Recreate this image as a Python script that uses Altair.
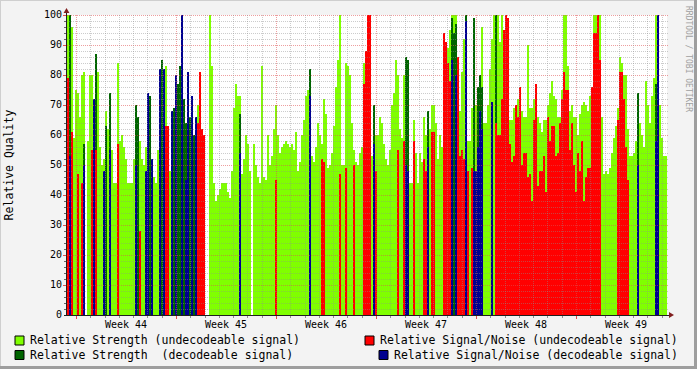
import altair as alt
import pandas as pd

# ---- data (one value per 2-px time slot, 50 slots per week) ----
strength_undecodeable = [
    100, 100, 96, 59, 75, 74, 66, 80, 81, 0,
    58, 80, 80, 66, 84, 81, 56, 50, 52, 68,
    62, 65, 55, 44, 44, 84, 58, 60, 56, 52,
    44, 44, 44, 52, 60, 65, 58, 52, 50, 56,
    60, 62, 52, 46, 44, 55, 60, 66, 70, 83,
    57, 48, 55, 0, 0, 0, 0, 0, 0, 0,
    0, 0, 0, 0, 0, 70, 72, 62, 60, 0,
    0, 100, 83, 44, 38, 40, 42, 44, 44, 44,
    41, 39, 48, 69, 77, 73, 73, 47, 52, 60,
    57, 48, 0, 57, 50, 46, 44, 83, 46, 45,
    60, 50, 53, 62, 70, 60, 54, 56, 57, 58,
    57, 56, 57, 55, 61, 48, 51, 60, 65, 73,
    75, 74, 53, 51, 56, 64, 60, 57, 72, 67,
    49, 50, 54, 63, 76, 85, 100, 50, 50, 84,
    83, 80, 64, 55, 51, 50, 54, 56, 84, 81,
    100, 100, 53, 60, 60, 60, 66, 64, 57, 52,
    50, 55, 70, 74, 85, 80, 62, 59, 80, 74,
    74, 44, 44, 65, 54, 44, 54, 51, 66, 60,
    64, 62, 70, 70, 64, 52, 60, 56, 86, 89,
    89, 95, 100, 100, 100, 81, 68, 81, 92, 74,
    58, 58, 69, 96, 70, 66, 80, 96, 64, 64,
    70, 82, 92, 100, 91, 100, 91, 100, 90, 90,
    80, 65, 65, 69, 69, 72, 72, 68, 66, 66,
    90, 69, 69, 72, 72, 66, 64, 61, 65, 65,
    70, 74, 78, 73, 72, 66, 66, 75, 100, 100,
    83, 68, 70, 66, 66, 60, 67, 70, 71, 70,
    68, 73, 72, 100, 100, 100, 100, 66, 47, 48,
    47, 49, 54, 59, 63, 69, 86, 84, 80, 80,
    62, 53, 53, 54, 58, 61, 64, 60, 56, 78,
    70, 64, 73, 79, 100, 83, 70, 59, 53, 53,
]

strength_decodeable = [
    (1, 100), (8, 57), (14, 87), (19, 63), (21, 74), (34, 70), (35, 66),
    (40, 74), (41, 73), (46, 80), (47, 85), (48, 78), (52, 65), (53, 69),
    (54, 74), (55, 77), (56, 83), (57, 83), (58, 72), (59, 64), (60, 70),
    (61, 66), (62, 62), (63, 60), (64, 58), (65, 55), (86, 67), (121, 82),
    (153, 70), (169, 86), (170, 85), (180, 68), (192, 99), (193, 94),
    (194, 97), (199, 100), (203, 99), (205, 76), (206, 80), (207, 76),
    (214, 100), (285, 74), (294, 77),
]

sn_undecodeable = [
    (0, 79), (2, 61), (5, 47), (7, 44), (12, 55), (14, 55), (25, 57),
    (36, 28), (49, 63), (50, 63), (65, 64), (66, 81), (67, 62), (68, 60),
    (104, 45), (127, 52), (128, 51), (136, 47), (139, 49), (143, 50),
    (148, 77), (149, 88), (150, 100), (151, 100), (154, 48), (165, 55),
    (168, 58), (173, 58), (178, 52), (179, 48), (182, 61), (183, 61),
    (188, 94), (189, 91), (190, 84), (191, 78), (195, 86), (196, 53),
    (197, 55), (198, 52), (200, 48), (202, 49), (214, 64), (215, 60),
    (216, 60), (217, 72), (218, 95), (219, 100), (220, 99), (221, 57),
    (222, 51), (223, 53), (224, 70), (225, 66), (226, 76), (227, 50),
    (228, 54), (229, 54), (230, 46), (231, 47), (232, 38), (233, 65),
    (234, 77), (235, 43), (236, 48), (237, 48), (238, 53), (239, 41),
    (240, 66), (241, 58), (242, 63), (243, 63), (244, 53), (245, 54),
    (246, 64), (247, 72), (248, 81), (249, 75), (250, 75), (251, 55),
    (252, 64), (253, 50), (254, 41), (255, 54), (256, 48), (257, 58),
    (258, 38), (259, 46), (260, 49), (261, 49), (262, 76), (263, 94),
    (264, 94), (265, 100), (266, 85), (275, 65), (276, 81), (277, 81),
    (278, 72), (279, 56), (280, 45),
]

sn_decodeable = [
    (1, 53), (8, 50), (13, 72), (18, 48), (21, 55), (34, 50), (39, 48),
    (40, 74), (42, 52), (46, 82), (48, 82), (52, 68), (54, 80), (57, 100),
    (59, 45), (60, 81), (62, 73), (64, 66), (86, 54), (121, 73), (153, 57),
    (169, 50), (170, 48), (180, 56), (192, 85), (194, 80), (199, 98),
    (203, 48), (204, 48), (205, 56), (206, 68), (207, 62), (212, 71),
    (285, 50), (294, 58), (295, 100),
]

week_labels = ["Week 44", "Week 45", "Week 46", "Week 47", "Week 48", "Week 49"]
y_tick_labels = [0, 10, 20, 30, 40, 50, 60, 70, 80, 90, 100]
legend_labels = [
    "Relative Strength (undecodeable signal)",
    "Relative Strength\u00a0 (decodeable signal)",
    "Relative Signal/Noise (undecodeable signal)",
    "Relative Signal/Noise (decodeable signal)",
]

# ---- layout constants ----
SLOTS = 300
WEEK = 50
FIRST_WEEK = 4.5
DAY = WEEK / 7.0
FONT = "DejaVu Sans Mono"

C_LG = "#80FF00"
C_DG = "#006400"
C_RED = "#FF0000"
C_BLUE = "#000090"
C_GRID = "#8F8F8F"
C_MGRID = "#DE4F4F"

xs = alt.Scale(domain=[0, SLOTS], nice=False, zero=False)
ys = alt.Scale(domain=[0, 100], nice=False)


def frame(pairs):
    return pd.DataFrame({
        "slot": [p[0] for p in pairs],
        "end": [p[0] + 1 for p in pairs],
        "val": [p[1] for p in pairs],
    })


g_pairs = [(i, v) for i, v in enumerate(strength_undecodeable) if v > 0]


def bars(pairs, color):
    return alt.Chart(frame(pairs)).mark_rect(color=color, strokeWidth=0).encode(
        x=alt.X("slot:Q", scale=xs, axis=None),
        x2="end:Q",
        y=alt.Y("val:Q", scale=ys, axis=None),
        y2=alt.datum(0),
    )


layers = [
    bars(g_pairs, C_LG),
    bars(strength_decodeable, C_DG),
    bars(sn_undecodeable, C_RED),
    bars(sn_decodeable, C_BLUE),
]

# ---- grid (drawn over the bars, dotted) ----
minor_y = [v - 1 / 6 for v in range(2, 100, 2) if v % 10]
major_y = [v - 1 / 6 for v in range(10, 101, 10)]


def px_slot(s):
    return (round(2 * s) + 0.5) / 2.0


day_pos = []
week_pos = []
j = 0
while FIRST_WEEK + j * DAY < SLOTS:
    p = px_slot(FIRST_WEEK + j * DAY)
    (week_pos if j % 7 == 0 else day_pos).append(p)
    j += 1

for vals, color, op in [(minor_y, C_GRID, 0.45), (major_y, C_MGRID, 0.55)]:
    df = pd.DataFrame({"gy": vals})
    layers.append(
        alt.Chart(df).mark_rule(
            color=color, opacity=op, strokeWidth=1, strokeDash=[1, 1]
        ).encode(y=alt.Y("gy:Q", scale=ys, axis=None), x=alt.value(0), x2=alt.value(601))
    )
    # small ticks left of the y axis
    layers.append(
        alt.Chart(df).mark_rule(color=color if color == C_MGRID else "#666666", strokeWidth=1).encode(
            y=alt.Y("gy:Q", scale=ys, axis=None),
            x=alt.value(-4 if color == C_MGRID else -3), x2=alt.value(-1))
    )
for vals, color, op in [(day_pos, C_GRID, 0.45), (week_pos, C_MGRID, 0.55)]:
    df = pd.DataFrame({"gx": vals})
    layers.append(
        alt.Chart(df).mark_rule(color=color, opacity=op, strokeWidth=1, strokeDash=[1, 1]).encode(
            x=alt.X("gx:Q", scale=xs, axis=None), y=alt.value(0), y2=alt.value(300))
    )
    layers.append(
        alt.Chart(df).mark_rule(color=color, strokeWidth=1).encode(
            x=alt.X("gx:Q", scale=xs, axis=None), y=alt.value(301),
            y2=alt.value(304 if color == C_MGRID else 303))
    )

one = pd.DataFrame({"k": [0]})

# y tick labels
layers.append(alt.Chart(pd.DataFrame({"v": y_tick_labels})).mark_text(
    font=FONT, fontSize=10, color="#000000", align="right", baseline="middle"
).encode(y=alt.Y("v:Q", scale=ys, axis=None), x=alt.value(-5), text="v:Q"))

# axis lines and arrows
layers.append(alt.Chart(one).mark_rule(color="#1F1F1F", strokeWidth=1).encode(
    x=alt.value(-0.5), y=alt.value(-3), y2=alt.value(301)))
layers.append(alt.Chart(one).mark_rule(color="#1F1F1F", strokeWidth=1).encode(
    y=alt.value(300.5), x=alt.value(-3), x2=alt.value(603)))
layers.append(alt.Chart(one).mark_point(shape="triangle-up", filled=True, size=34,
                                         color="#801F1F", opacity=1).encode(
    x=alt.value(-0.5), y=alt.value(-4.5)))
layers.append(alt.Chart(one).mark_point(shape="triangle-right", filled=True, size=34,
                                         color="#801F1F", opacity=1).encode(
    x=alt.value(604.5), y=alt.value(300)))

# week labels
wk = pd.DataFrame({"w": week_labels,
                   "p": [FIRST_WEEK + WEEK / 2 + WEEK * i for i in range(len(week_labels))]})
layers.append(alt.Chart(wk).mark_text(font=FONT, fontSize=10, color="#000000",
                                       align="center", baseline="middle").encode(
    x=alt.X("p:Q", scale=xs, axis=None), y=alt.value(309.7), text="w:N"))

# vertical axis title
layers.append(alt.Chart(pd.DataFrame({"t": ["Relative Quality"]})).mark_text(
    font=FONT, fontSize=11.5, angle=270, color="#000000", align="center", baseline="middle"
).encode(x=alt.value(-57), y=alt.value(150), text="t:N"))

# watermark
layers.append(alt.Chart(pd.DataFrame({"t": ["RRDTOOL / TOBI OETIKER"]})).mark_text(
    font=FONT, fontSize=8, angle=90, color="#A0A0A0", align="center", baseline="middle"
).encode(x=alt.value(621), y=alt.value(44), text="t:N"))

# legend
legend_spec = [
    (legend_labels[0], C_LG, -47.5, -37, 325.5),
    (legend_labels[1], C_DG, -47.5, -37, 340),
    (legend_labels[2], C_RED, 302.5, 313, 325.5),
    (legend_labels[3], C_BLUE, 316.5, 327, 340),
]
for label, color, sx, tx, ty in legend_spec:
    layers.append(alt.Chart(one).mark_square(size=81, filled=True, color=color,
                                             stroke="#000000", strokeWidth=1, opacity=1).encode(
        x=alt.value(sx), y=alt.value(ty)))
    layers.append(alt.Chart(pd.DataFrame({"t": [label]})).mark_text(
        font=FONT, fontSize=11.5, color="#000000", align="left", baseline="middle"
    ).encode(x=alt.value(tx), y=alt.value(ty + 0.5), text="t:N"))

# 3D frame of the image
layers.append(alt.Chart(one).mark_rule(color="#CFCFCF", strokeWidth=1).encode(
    y=alt.value(-14.5), x=alt.value(-67), x2=alt.value(630)))
layers.append(alt.Chart(one).mark_rule(color="#CFCFCF", strokeWidth=1).encode(
    x=alt.value(-66.5), y=alt.value(-15), y2=alt.value(354)))
layers.append(alt.Chart(one).mark_rule(color="#9E9E9E", strokeWidth=3).encode(
    y=alt.value(352.5), x=alt.value(-67), x2=alt.value(630)))
layers.append(alt.Chart(one).mark_rule(color="#9E9E9E", strokeWidth=3).encode(
    x=alt.value(628.5), y=alt.value(-15), y2=alt.value(354)))

chart = alt.layer(*layers).properties(
    width=600, height=300,
    padding={"left": 67, "top": 15, "right": 30, "bottom": 54},
    autosize=alt.AutoSizeParams(type="none"),
    background="#F3F3F3",
).configure_view(strokeWidth=0, fill="#FFFFFF")

chart.save("out.html", embed_options={"renderer": "svg", "actions": False})
